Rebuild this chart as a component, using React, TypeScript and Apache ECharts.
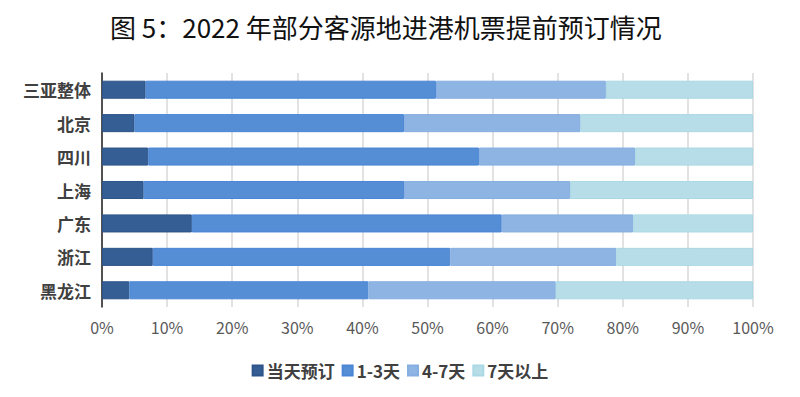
import React, { useEffect, useRef } from "react";
import * as echarts from "echarts";

const categories = ["三亚整体", "北京", "四川", "上海", "广东", "浙江", "黑龙江"];
const sameDay = [6.7, 5.0, 7.1, 6.4, 13.8, 7.8, 4.2];
const days1to3 = [44.6, 41.4, 50.8, 40.0, 47.6, 45.7, 36.7];
const days4to7 = [26.1, 27.1, 24.0, 25.5, 20.2, 25.5, 28.8];
const days7plus = [22.6, 26.5, 18.1, 28.1, 18.4, 21.0, 30.3];
const seriesNames = ["当天预订", "1-3天", "4-7天", "7天以上"];
const colors = ["#345E94", "#558ED5", "#8EB4E3", "#B7DEE8"];
const borderColors = ["#2E5589", "#4A86D6", "#86AEE0", "#AAD8E4"];

export default function App() {
  const ref = useRef<HTMLDivElement>(null);
  useEffect(() => {
    if (!ref.current) return;
    const chart = echarts.init(ref.current, null, { renderer: "svg" });
    const datas = [sameDay, days1to3, days4to7, days7plus];
    chart.setOption({
      animation: false,
      backgroundColor: "#ffffff",
      title: {
        text: "图 5：2022 年部分客源地进港机票提前预订情况",
        left: 102,
        top: 3,
        padding: 0,
        textStyle: {
          fontFamily: "Noto Sans CJK SC",
          fontSize: 26,
          lineHeight: 30,
          fontWeight: "normal",
          color: "#111111",
        },
      },
      legend: {
        top: 349,
        left: "center",
        itemWidth: 10,
        itemHeight: 10,
        itemGap: 7,
        icon: "rect",
        data: seriesNames,
        textStyle: {
          fontFamily: "Noto Sans CJK SC",
          fontSize: 17,
          fontWeight: "bold",
          color: "#404040",
          padding: [0, 0, 0, -1],
        },
      },
      grid: { left: 94, right: 39, top: 65, height: 234, containLabel: false },
      xAxis: {
        type: "value",
        min: 0,
        max: 100,
        interval: 10,
        axisLabel: {
          formatter: "{value}%",
          fontFamily: "Noto Sans CJK SC",
          fontSize: 16,
          color: "#595959",
          margin: 12,
        },
        axisLine: { show: false },
        axisTick: { show: false },
        splitLine: { lineStyle: { color: "#D9D9D9", width: 1.5 } },
      },
      yAxis: {
        type: "category",
        data: categories,
        inverse: true,
        axisLine: { show: true, lineStyle: { color: "#222222", width: 1.5 } },
        axisTick: { show: false },
        axisLabel: {
          fontFamily: "Noto Sans CJK SC",
          fontSize: 17,
          fontWeight: "bold",
          color: "#404040",
          margin: 11,
        },
      },
      series: seriesNames.map((name, i) => ({
        name,
        type: "bar",
        stack: "total",
        data: datas[i],
        barCategoryGap: "46%",
        itemStyle: { color: colors[i], borderColor: borderColors[i], borderWidth: 1 },
      })),
    });
    return () => chart.dispose();
  }, []);
  return <div ref={ref} style={{ width: 784, height: 381 }} />;
}
